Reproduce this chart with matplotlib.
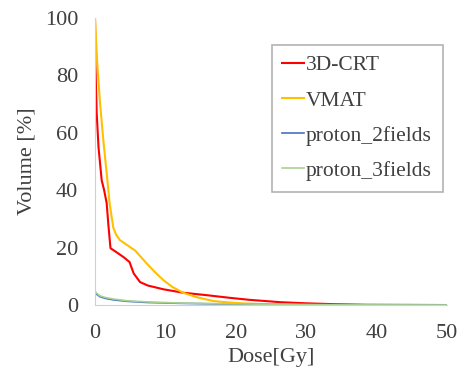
import matplotlib
matplotlib.use('Agg')
import matplotlib.pyplot as plt
import numpy as np

plt.rcParams['font.family'] = ['Liberation Serif', 'DejaVu Serif']

# dose-volume histogram values
dose_crt = [0, 0.1, 0.24, 0.5, 0.95, 1.3, 1.66, 1.9, 2.2, 3.0, 4.0, 4.9, 5.5, 6.4, 7.5, 9.7, 12.5, 16, 19.2, 22, 26.3, 30, 34, 38.6, 45, 50]
vol_crt = [100, 80, 67, 55, 43.5, 40, 35.5, 28, 19.8, 18.5, 16.8, 15, 11, 8, 6.8, 5.5, 4.3, 3.4, 2.5, 1.8, 1.0, 0.6, 0.3, 0.1, 0.05, 0]

dose_vmat = [0, 0.3, 0.7, 1.2, 1.66, 2.1, 2.6, 3.0, 3.55, 4.5, 5.7, 7.3, 8.5, 9.7, 11, 12.5, 14.5, 16.8, 19, 21.5, 25, 30, 40, 50]
vol_vmat = [100, 85, 71, 57, 46, 35, 27, 24.5, 22.6, 21, 19, 14.6, 11.5, 8.7, 6.3, 4.3, 2.7, 1.4, 0.9, 0.5, 0.2, 0.05, 0, 0]

dose_p2 = [0, 0.02, 0.1, 0.7, 1.5, 2.6, 4.5, 7.3, 12, 17, 25, 35, 50]
vol_p2 = [100, 4.4, 4.0, 2.9, 2.3, 1.8, 1.3, 0.9, 0.6, 0.4, 0.2, 0.05, 0]

dose_p3 = [0, 0.02, 0.1, 0.7, 1.5, 2.6, 4.5, 7.3, 12, 17, 25, 35, 50]
vol_p3 = [100, 4.9, 4.4, 3.2, 2.6, 2.1, 1.5, 1.1, 0.7, 0.5, 0.25, 0.05, 0]

fig = plt.figure(figsize=(4.62, 3.72), dpi=100)
ax = fig.add_axes([0.2056, 0.18, 0.762, 0.7715])

ax.plot(dose_crt, vol_crt, color='#FF0000', lw=1.5, label='3D-CRT')
ax.plot(dose_vmat, vol_vmat, color='#FFC000', lw=1.5, label='VMAT')
ax.plot(dose_p2, vol_p2, color='#4472C4', lw=1.2, label='proton_2fields')
ax.plot(dose_p3, vol_p3, color='#A9D18E', lw=1.2, label='proton_3fields')

ax.set_xlim(0, 50)
ax.set_ylim(0, 100)
ax.set_xticks(range(0, 51, 10))
ax.set_yticks(range(0, 101, 20))
for s in ['top', 'right']:
    ax.spines[s].set_visible(False)
for s in ['left', 'bottom']:
    ax.spines[s].set_color('#D0D0D0')
ax.tick_params(length=0, labelsize=16, colors='#404040')
ax.tick_params(axis='x', pad=14)
ax.tick_params(axis='y', pad=12)
ax.set_xlabel('Dose[Gy]', fontsize=16, color='#404040', labelpad=3)
ax.set_ylabel('Volume [%]', fontsize=16, color='#404040', labelpad=6)

leg = ax.legend(loc='upper right', bbox_to_anchor=(1.018, 0.945), fontsize=15.5,
                handlelength=1.0, handletextpad=0.1, labelspacing=0.7,
                fancybox=False, edgecolor='#A0A0A0', borderpad=0.5, labelcolor='#404040')
leg.get_frame().set_linewidth(1.2)

fig.savefig('out.png', dpi=100)
